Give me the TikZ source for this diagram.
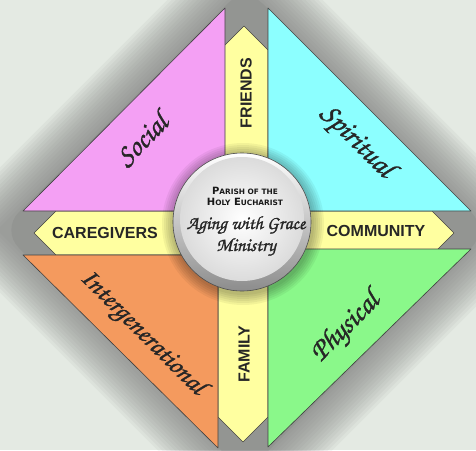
\documentclass[tikz,border=0pt]{standalone}
\usepackage{fontspec}
\newfontfamily\labelfont{Liberation Sans}
\newfontfamily\platefont{DejaVu Sans}
\newfontfamily\chancery[FakeBold=1.2]{TeX Gyre Chorus}
\newcommand{\psc}[2]{#1{\fontsize{7.4}{7.4}\selectfont #2}}
\definecolor{bgc}{HTML}{E4EAE3}
\definecolor{shadowc}{HTML}{7E7E7E}
\definecolor{socialc}{HTML}{F4A0F4}
\definecolor{spiritc}{HTML}{8CFFFF}
\definecolor{interc}{HTML}{F49A5E}
\definecolor{physc}{HTML}{8AF88A}
\definecolor{arrowc}{HTML}{FFFFA0}
\begin{document}
\begin{tikzpicture}[
    x = 1pt, y = -1pt,
    tri/.style = {draw = black!75, line width = .6pt, line join = round},
    arr/.style = {draw = black!75, line width = .6pt, line join = round, fill = arrowc},
    lab/.style = {font = \labelfont\bfseries\fontsize{16}{16}\selectfont, text = black!85},
    cur/.style = {font = \chancery\fontsize{29}{29}\selectfont, text = black!85},
  ]

  \useasboundingbox[fill = bgc] (0,0) rectangle (476,450);

  % soft shadow of the diamond
  \foreach \d in {3,6,...,45} {
    \fill[shadowc, opacity = .07, rounded corners = 1.2*\d] (245,{-14-1.414*\d}) to ({489+1.414*\d},230)
      to (245,{474+1.414*\d}) to ({1-1.414*\d},230) -- cycle;
  }
  \fill[shadowc, opacity = .25, rounded corners = 25] (245,-14) to (489,230) to (245,474) to (1,230) -- cycle;

  % arrows
  \draw[arr] (220,233) to (220,50) to (244,26) to (268,50) to (268,233) -- cycle;
  \draw[arr] (218,233) to (218,417) to (243,442) to (268,417) to (268,233) -- cycle;
  \draw[arr] (244,211) to (56,211) to (34,233) to (56,255) to (244,255) -- cycle;
  \draw[arr] (244,211) to (432,211) to (454,233) to (432,255) to (244,255) -- cycle;

  % triangles
  \draw[tri, fill = socialc] (23,211) to (225,211) to (225,8) -- cycle;
  \draw[tri, fill = spiritc] (268,8) to (268,211) to (471,211) -- cycle;
  \draw[tri, fill = interc] (23,255) to (218,255) to (218,448) -- cycle;
  \draw[tri, fill = physc] (268,249) to (471,249) to (268,447) -- cycle;

  % centre plate
  \coordinate (C) at (242,222);
  \foreach \r in {71,73,...,81} {
    \fill[black, opacity = .05] (243,224) circle (\r);
  }
  \shade[top color = white, bottom color = black!45] (C) circle (69);
  \shade[inner color = white, outer color = black!14] (242,219) circle (62);
  \draw[black!70, line width = .6pt] (C) circle (69);

  \node[font = \platefont\bfseries\fontsize{10}{11}\selectfont, align = center, text = black!90]
    (parish) at (245,196) {\psc{P}{ARISH OF THE}\\\psc{H}{OLY} \psc{E}{UCHARIST}};
  \node[cur, font = \chancery\fontsize{19}{19}\selectfont] (aging) at (246,225) {Aging with Grace};
  \node[cur, font = \chancery\fontsize{19}{19}\selectfont] (ministry) at (246,247) {Ministry};

  % labels
  \node[lab, rotate = 90] (friends) at (246,93) {FRIENDS};
  \node[lab, rotate = 90] (family) at (244,354) {FAMILY};
  \node[lab] (caregivers) at (105,233) {CAREGIVERS};
  \node[lab] (community) at (376,231) {COMMUNITY};

  \node[cur, rotate = 45] (social) at (142,140) {Social};
  \node[cur, rotate = -45] (spiritual) at (356,142) {Spiritual};
  \node[cur, rotate = -45, font = \chancery\fontsize{27}{27}\selectfont] (intergen) at (142,333) {Intergenerational};
  \node[cur, rotate = 45] (physical) at (346,328) {Physical};
\end{tikzpicture}
\end{document}
